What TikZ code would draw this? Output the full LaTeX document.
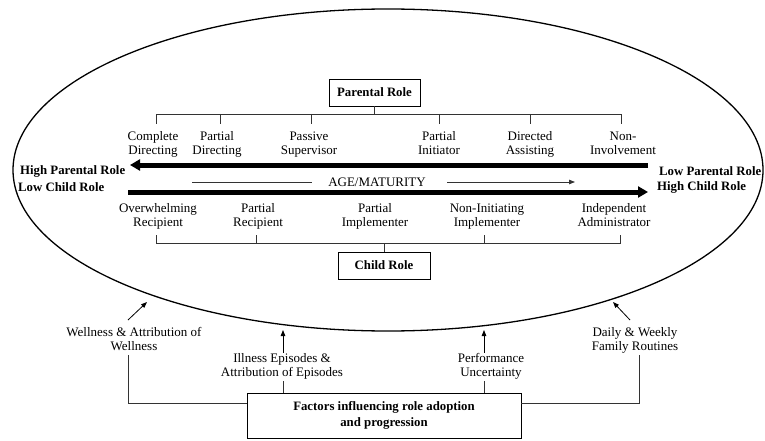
\documentclass[tikz,border=0pt]{standalone}
\usepackage{fontspec}
\setmainfont{Liberation Serif}
\usetikzlibrary{arrows.meta}
\newcommand\twoln[2]{#1\strut\\#2\strut}
\begin{document}
\begin{tikzpicture}[x=1pt,y=-1pt,
  lbl/.style={align=center,font=\fontsize{13}{14.2}\selectfont,inner sep=0pt},
  blbl/.style={align=left,font=\fontsize{12.8}{16}\selectfont\bfseries,inner sep=0pt},
  box/.style={draw,line width=0.8pt,font=\fontsize{12.8}{16}\selectfont\bfseries,align=center,inner sep=0pt},
  thinln/.style={line width=0.8pt,black!80},
  bigarrow/.style={line width=5pt,-{Triangle[length=10pt,width=11pt]}},
  smallarrow/.style={line width=0.8pt,-{Triangle[length=6pt,width=4.5pt]}}]
\useasboundingbox (0,0) rectangle (765,441);
% ellipse
\draw[line width=1.3pt] (388,170) ellipse [x radius=375, y radius=161];
% boxes
\node[box,minimum width=91pt,minimum height=27pt] (pr) at (374.5,92.5) {Parental Role};
\node[box,minimum width=92pt,minimum height=27pt] (cr) at (384,265.5) {Child Role};
\node[box,minimum width=274pt,minimum height=45pt] (fac) at (384,415.5) {Factors influencing role adoption\\and progression};
% parental labels
\node[lbl] (p1) at (153,144.5) {\twoln{Complete}{Directing}};
\node[lbl] (p2) at (217,144.5) {\twoln{Partial}{Directing}};
\node[lbl] (p3) at (309,144.5) {\twoln{Passive}{Supervisor}};
\node[lbl] (p4) at (439,144.5) {\twoln{Partial}{Initiator}};
\node[lbl] (p5) at (530,144.5) {\twoln{Directed}{Assisting}};
\node[lbl] (p6) at (623,144.5) {\twoln{Non-}{Involvement}};
% parental bracket
\coordinate (pb) at (374.5,114);
\draw[thinln] (pr.south) -- (pb);
\draw[thinln] (156,124) -- (156,114) -- (621,114) -- (621,124);
\draw[thinln] (220,114) -- (220,124);
\draw[thinln] (311,114) -- (311,124);
\draw[thinln] (439,114) -- (439,124);
\draw[thinln] (530,114) -- (530,124);
% child labels
\node[lbl] (c1) at (158,217) {\twoln{Overwhelming}{Recipient}};
\node[lbl] (c2) at (258,217) {\twoln{Partial}{Recipient}};
\node[lbl] (c3) at (375,217) {\twoln{Partial}{Implementer}};
\node[lbl] (c4) at (487,217) {\twoln{Non-Initiating}{Implementer}};
\node[lbl] (c5) at (614,217) {\twoln{Independent}{Administrator}};
% child bracket
\coordinate (cb) at (384,243);
\draw[thinln] (156,235) -- (156,243) -- (620,243) -- (620,235);
\draw[thinln] (256,235) -- (256,243);
\draw[thinln] (484,235) -- (484,243);
\draw[thinln] (cb) -- (cr.north);
% thick arrows
\coordinate (la1) at (648,165);
\coordinate (la2) at (130,165);
\draw[bigarrow] (la1) -- (la2);
\coordinate (ra1) at (128,192);
\coordinate (ra2) at (648,192);
\draw[bigarrow] (ra1) -- (ra2);
% side labels
\node[blbl,anchor=west] (hpr) at (20,171) {High Parental Role};
\node[blbl,anchor=west] (lcr) at (18,187) {Low Child Role};
\node[blbl,anchor=west] (lpr) at (659,171) {Low Parental Role};
\node[blbl,anchor=west] (hcr) at (657,187) {High Child Role};
% age/maturity
\node[lbl] (age) at (377,182) {AGE/MATURITY};
\coordinate (ag1) at (192,182);
\coordinate (ag1e) at (312,182);
\coordinate (ag2s) at (447,182);
\coordinate (ag2) at (575,182);
\draw[thinln] (ag1) -- (ag1e);
\draw[smallarrow,black!80] (ag2s) -- (ag2);
% bottom factors
\node[lbl] (wel) at (134,341) {\twoln{Wellness \& Attribution of}{Wellness}};
\node[lbl] (ill) at (282,367) {\twoln{Illness Episodes \&}{Attribution of Episodes}};
\node[lbl] (perf) at (491,367) {\twoln{Performance}{Uncertainty}};
\node[lbl] (day) at (635,341) {\twoln{Daily \& Weekly}{Family Routines}};
\coordinate (w1) at (128,320); \coordinate (w2) at (147,302);
\coordinate (i2) at (283,330);
\coordinate (f2) at (484,330);
\coordinate (d1) at (630,320); \coordinate (d2) at (613,302);
\draw[smallarrow] (w1) -- (w2);
\draw[smallarrow] (ill.north -| i2) -- (i2);
\draw[smallarrow] (perf.north -| f2) -- (f2);
\draw[smallarrow] (d1) -- (d2);
\coordinate (wl) at (128,403);
\coordinate (dl) at (639,403);
\draw[thinln] (wel.south -| wl) -- (wl) -- (fac.west |- wl);
\draw[thinln] (ill.south -| i2) -- (i2 |- fac.north);
\draw[thinln] (perf.south -| f2) -- (f2 |- fac.north);
\draw[thinln] (day.south -| dl) -- (dl) -- (fac.east |- dl);
\end{tikzpicture}
\end{document}
